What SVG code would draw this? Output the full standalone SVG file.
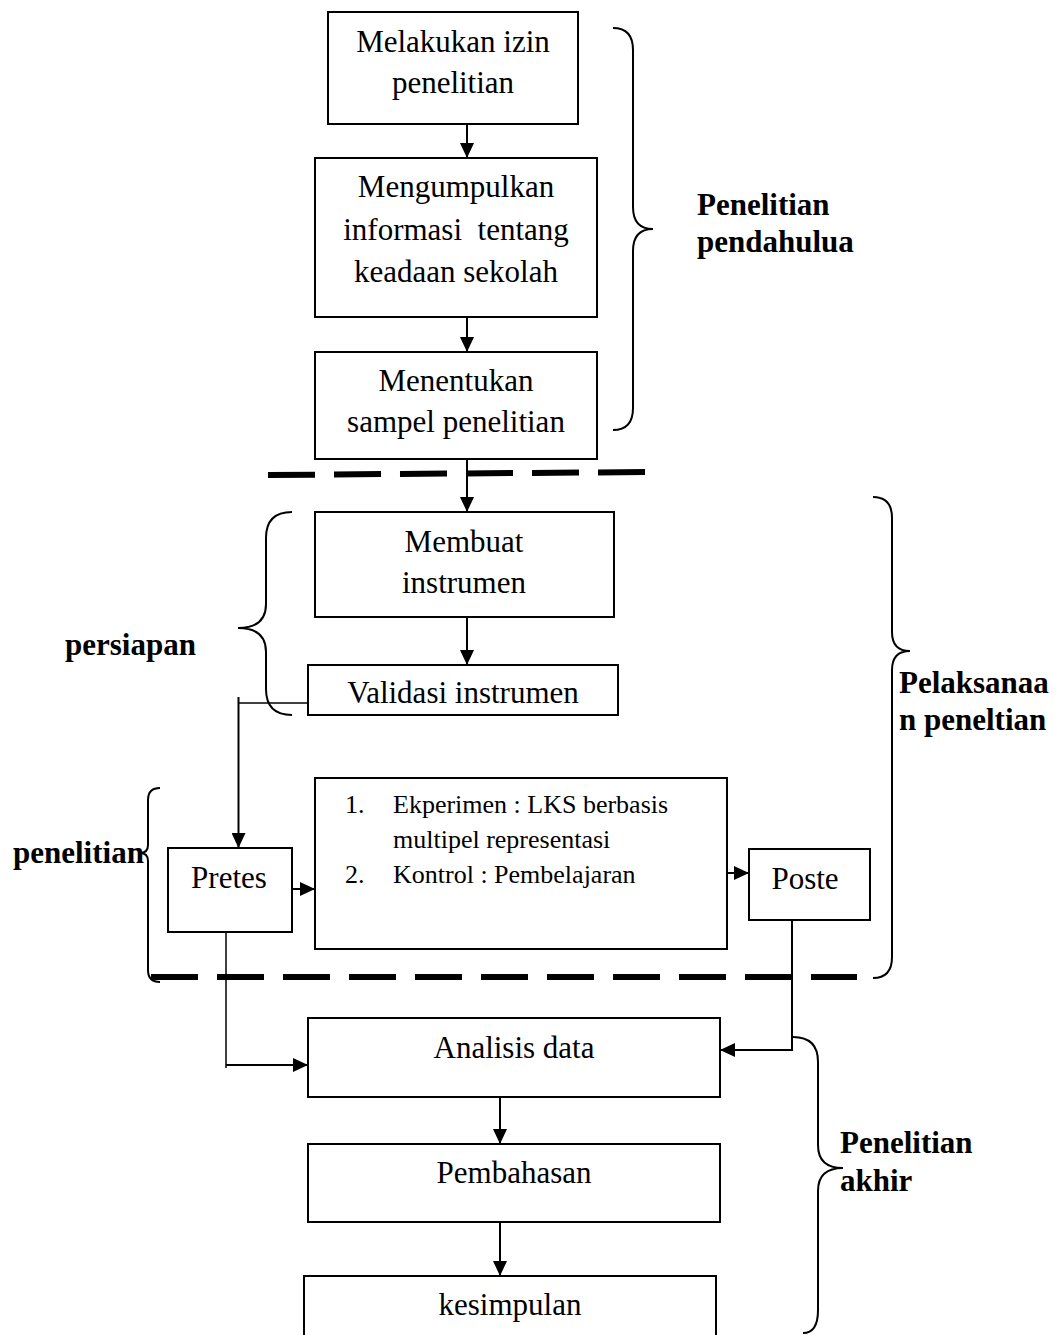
<svg xmlns="http://www.w3.org/2000/svg" width="1061" height="1335" viewBox="0 0 1061 1335">
<style>
.box{fill:#fff;stroke:#000;stroke-width:2}
.t{font-family:"Liberation Serif","Times New Roman",serif;font-size:31px;fill:#000;text-anchor:middle}
.s{font-family:"Liberation Serif","Times New Roman",serif;font-size:26px;fill:#000}
.b{font-family:"Liberation Serif","Times New Roman",serif;font-size:31px;font-weight:bold;fill:#000}
.c{fill:none;stroke:#000;stroke-width:2}
.thin{fill:none;stroke:#000;stroke-width:1.5}
.br{fill:none;stroke:#000;stroke-width:2}
.dash{fill:none;stroke:#000;stroke-width:6;stroke-dasharray:47 19}
</style>
<defs>
<marker id="ah" viewBox="0 0 15 14" refX="15" refY="7" markerWidth="15" markerHeight="14" markerUnits="userSpaceOnUse" orient="auto">
<path d="M0,0 L15,7 L0,14 z" fill="#000"/>
</marker>
</defs>
<rect width="1061" height="1335" fill="#fff"/>

<g id="dividers">
<path class="dash" d="M268,475 L647,472" stroke-width="5"/>
<path class="dash" d="M151,977 L857,977"/>
</g>

<g id="braces">
<path class="br" d="M613,28 Q633,28 633,50 L633,207 Q633,229 653,229 Q633,229 633,251 L633,408 Q633,430 613,430"/>
<path class="br" d="M292,512 Q266,512 266,538 L266,604 Q266,628 238,628 Q266,628 266,652 L266,689 Q266,715 292,715"/>
<path class="br" d="M160,788 Q148,788 148,800 L148,845 Q148,853 140,853 Q148,853 148,861 L148,970 Q148,982 160,982"/>
<path class="br" d="M873,497 Q892,497 892,518 L892,632 Q892,651 910,651 Q892,651 892,670 L892,957 Q892,978 873,978"/>
<path class="br" d="M793,1037 Q818,1037 818,1062 L818,1145 Q818,1168 843,1168 Q818,1168 818,1191 L818,1310 Q818,1333 803,1333"/>
</g>

<g id="connectors">
<line class="c" x1="467" y1="124" x2="467" y2="158" marker-end="url(#ah)"/>
<line class="c" x1="467" y1="317" x2="467" y2="352" marker-end="url(#ah)"/>
<line class="c" x1="467" y1="459" x2="467" y2="512" marker-end="url(#ah)"/>
<line class="c" x1="467" y1="617" x2="467" y2="665" marker-end="url(#ah)"/>
<line class="thin" x1="308" y1="703" x2="238" y2="703"/>
<polyline class="c" points="238.5,697 238.5,848" marker-end="url(#ah)"/>
<line class="c" x1="292" y1="889" x2="315" y2="889" marker-end="url(#ah)"/>
<line class="c" x1="727" y1="873" x2="749" y2="873" marker-end="url(#ah)"/>
<polyline class="thin" points="226,932 226,1068"/>
<line class="c" x1="226" y1="1065" x2="308" y2="1065" marker-end="url(#ah)"/>
<polyline class="c" points="792,920 792,1050 720,1050" marker-end="url(#ah)"/>
<line class="c" x1="500" y1="1097" x2="500" y2="1144" marker-end="url(#ah)"/>
<line class="c" x1="500" y1="1222" x2="500" y2="1276" marker-end="url(#ah)"/>
</g>

<g id="n1">
<rect class="box" x="328" y="12" width="250" height="112"/>
<text class="t" x="453" y="52">Melakukan izin</text>
<text class="t" x="453" y="93">penelitian</text>
</g>
<g id="n2">
<rect class="box" x="315" y="158" width="282" height="159"/>
<text class="t" x="456" y="197">Mengumpulkan</text>
<text class="t" x="456" y="240" style="white-space:pre">informasi  tentang</text>
<text class="t" x="456" y="282">keadaan sekolah</text>
</g>
<g id="n3">
<rect class="box" x="315" y="352" width="282" height="107"/>
<text class="t" x="456" y="391">Menentukan</text>
<text class="t" x="456" y="432">sampel penelitian</text>
</g>
<g id="n4">
<rect class="box" x="315" y="512" width="299" height="105"/>
<text class="t" x="464" y="552">Membuat</text>
<text class="t" x="464" y="593">instrumen</text>
</g>
<g id="n5">
<rect class="box" x="308" y="665" width="310" height="50"/>
<text class="t" x="463" y="703">Validasi instrumen</text>
</g>
<g id="n6">
<rect class="box" x="168" y="848" width="124" height="84"/>
<text class="t" x="229" y="888">Pretes</text>
</g>
<g id="n7">
<rect class="box" x="315" y="778" width="412" height="171"/>
<text class="s" x="345" y="813">1.</text>
<text class="s" x="393" y="813">Ekperimen : LKS berbasis</text>
<text class="s" x="393" y="848">multipel representasi</text>
<text class="s" x="345" y="883">2.</text>
<text class="s" x="393" y="883">Kontrol : Pembelajaran</text>
</g>
<g id="n8">
<rect class="box" x="749" y="849" width="121" height="71"/>
<text class="t" x="805" y="889">Poste</text>
</g>
<g id="n9">
<rect class="box" x="308" y="1018" width="412" height="79"/>
<text class="t" x="514" y="1058">Analisis data</text>
</g>
<g id="n10">
<rect class="box" x="308" y="1144" width="412" height="78"/>
<text class="t" x="514" y="1183">Pembahasan</text>
</g>
<g id="n11">
<rect class="box" x="304" y="1276" width="412" height="80"/>
<text class="t" x="510" y="1315">kesimpulan</text>
</g>

<g id="labels">
<text class="b" x="697" y="215">Penelitian</text>
<text class="b" x="697" y="252">pendahulua</text>
<text class="b" x="65" y="655">persiapan</text>
<text class="b" x="13" y="863">penelitian</text>
<text class="b" x="899" y="693">Pelaksanaa</text>
<text class="b" x="899" y="730">n peneltian</text>
<text class="b" x="840" y="1153">Penelitian</text>
<text class="b" x="840" y="1191">akhir</text>
</g>
</svg>
